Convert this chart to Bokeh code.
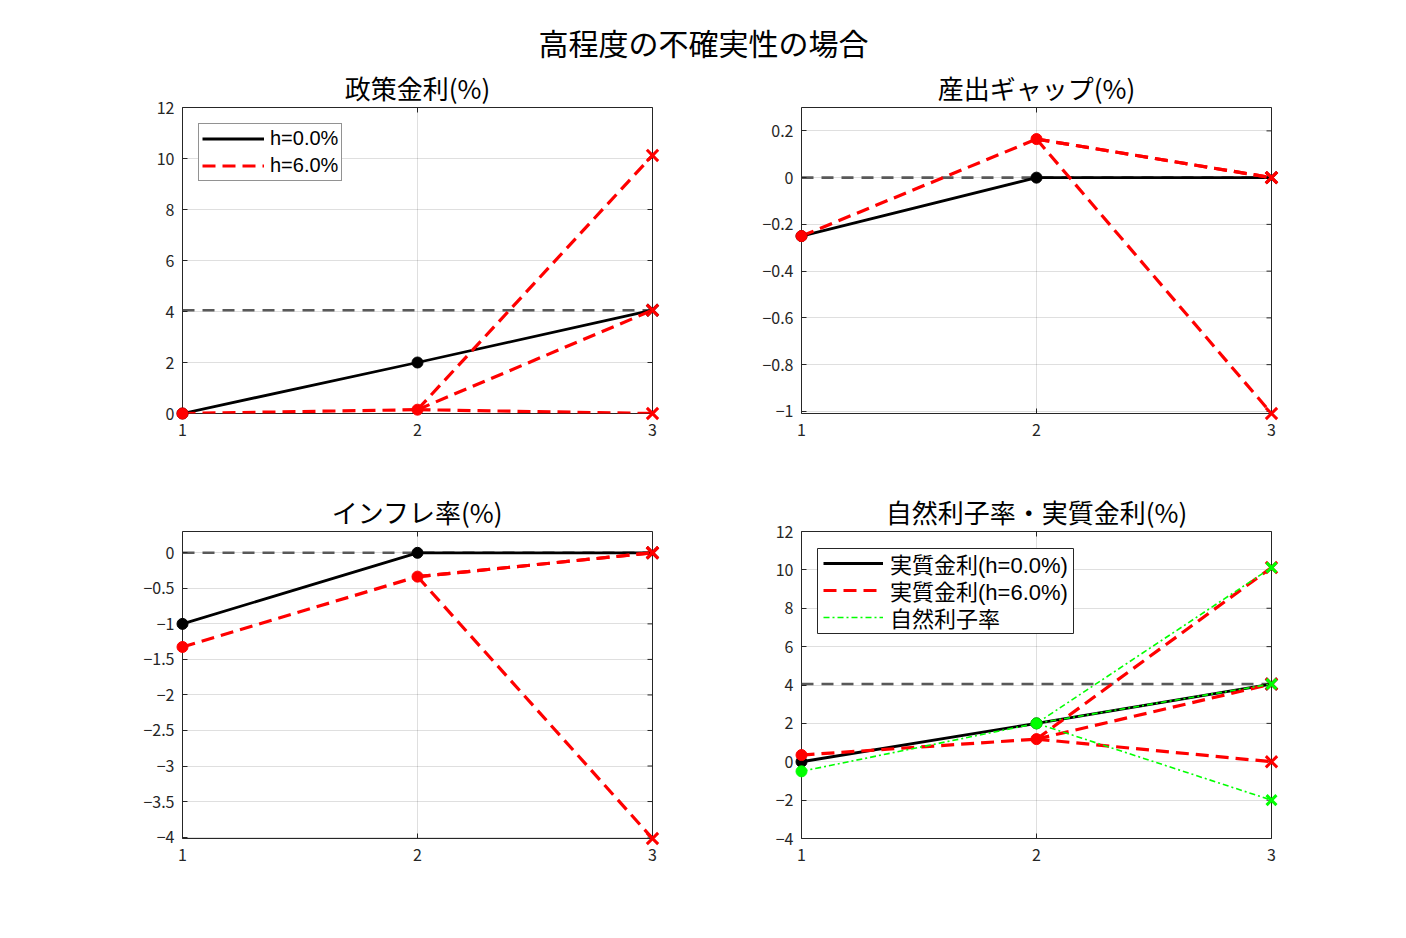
import math
from bokeh.plotting import figure
from bokeh.layouts import column, row
from bokeh.models import (Range1d, FixedTicker, Legend, LegendItem, CustomJSTickFormatter,
                          BoxAnnotation)
from bokeh.core.properties import value
from bokeh.embed import file_html
from bokeh.resources import INLINE

# ---------------- data ----------------
periods = [1, 2, 3]
path_periods = [1, 2]
branch_periods = [2, 3]

main_title = "高程度の不確実性の場合"
panel_titles = ["政策金利(%)", "産出ギャップ(%)", "インフレ率(%)", "自然利子率・実質金利(%)"]

policy_h0 = [0.0, 2.0, 4.05]
policy_h6_path = [0.0, 0.15]
policy_h6_branches = [10.12, 4.05, 0.0]
policy_ref = 4.05

gap_h0 = [-0.25, 0.0, 0.0]
gap_h6_path = [-0.25, 0.165]
gap_h6_branches = [0.0, 0.0, -1.009]
gap_ref = 0.0

infl_h0 = [-1.0, 0.0, 0.0]
infl_h6_path = [-1.325, -0.335]
infl_h6_branches = [0.0, 0.0, -4.02]
infl_ref = 0.0

real_h0 = [0.0, 2.0, 4.05]
real_h6_path = [0.35, 1.18]
real_h6_branches = [10.12, 4.05, 0.0]
natural_path = [-0.5, 2.0]
natural_branches = [10.12, 4.05, -2.0]
real_ref = 4.05

y_limits = [(0, 12), (-1.009, 0.3), (-4.02, 0.3), (-4, 12)]
y_ticks = [
    [0, 2, 4, 6, 8, 10, 12],
    [-1, -0.8, -0.6, -0.4, -0.2, 0, 0.2],
    [-4, -3.5, -3, -2.5, -2, -1.5, -1, -0.5, 0],
    [-4, -2, 0, 2, 4, 6, 8, 10, 12],
]
x_ticks = [1, 2, 3]
legend_labels_1 = ["h=0.0%", "h=6.0%"]
legend_labels_4 = ["実質金利(h=0.0%)", "実質金利(h=6.0%)", "自然利子率"]

# ---------------- style ----------------
FONT = "Noto Sans CJK JP"
LEGEND_FONT = "Liberation Sans, Noto Sans CJK JP"
AX = "#262626"
BLACK = "#000000"
RED = "#ff0000"
GREEN = "#00ff00"
GRAY = "#595959"

fmt_code = "var s = String(Math.round(tick*1000)/1000); return s.replace('-', '\\u2212');"


def make_panel(title, ylim, yticks, bl, br, bt, bb, fh):
    p = figure(frame_width=470, frame_height=fh,
               x_range=Range1d(periods[0], periods[-1]), y_range=Range1d(*ylim),
               output_backend="svg", toolbar_location=None,
               min_border_left=bl, min_border_right=br,
               min_border_top=bt, min_border_bottom=bb)
    p.title.text = title
    p.title.align = "center"
    p.title.text_font = FONT
    p.title.text_font_size = "26px"
    p.title.text_font_style = "normal"
    p.title.text_color = "#000000"
    p.title.standoff = 4
    p.outline_line_color = AX
    p.outline_line_width = 1
    p.outline_line_alpha = 1

    p.xaxis.ticker = FixedTicker(ticks=x_ticks)
    p.yaxis.ticker = FixedTicker(ticks=yticks)
    p.yaxis.formatter = CustomJSTickFormatter(code=fmt_code)
    p.xaxis.formatter = CustomJSTickFormatter(code=fmt_code)
    for ax in (p.xaxis[0], p.yaxis[0]):
        ax.axis_line_color = None
        ax.major_tick_in = 5
        ax.major_tick_out = 0
        ax.minor_tick_in = 0
        ax.minor_tick_out = 0
        ax.major_tick_line_color = AX
        ax.major_label_text_font = FONT
        ax.major_label_text_font_size = "16px"
        ax.major_label_text_color = AX
    p.xaxis.major_label_standoff = 10
    p.yaxis.major_label_standoff = 8

    # inward ticks on the right and top edges (outer halves clipped by the frame)
    p.scatter([periods[-1]] * len(yticks), yticks, marker="dash", size=10,
              line_color=AX, line_width=1)
    p.scatter(x_ticks, [ylim[1]] * len(x_ticks), marker="dash", size=10, angle=math.pi / 2,
              line_color=AX, line_width=1)

    p.xgrid.ticker = FixedTicker(ticks=x_ticks)
    p.ygrid.ticker = FixedTicker(ticks=yticks)
    for g in (p.xgrid[0], p.ygrid[0]):
        g.grid_line_color = AX
        g.grid_line_alpha = 0.15
        g.grid_line_width = 1
    return p


def ref_line(p, level):
    p.line([periods[0], periods[-1]], [level, level], line_color=GRAY,
           line_width=2.6, line_dash="12 8")


def solid_series(p, vals, color=BLACK):
    r = p.line(periods, vals, line_color=color, line_width=2.8)
    p.scatter(path_periods, vals[:2], marker="circle", size=11, color=color, level="overlay")
    p.scatter([periods[-1]], [vals[-1]], marker="x", size=16, line_color=color, line_width=3,
              level="overlay")
    return r


def branch_series(p, path, branches, color, width, dash, xsize):
    r = p.line(path_periods, path, line_color=color, line_width=width, line_dash=dash)
    p.multi_line([branch_periods] * len(branches), [[path[-1], b] for b in branches],
                 line_color=color, line_width=width, line_dash=dash)
    p.scatter(path_periods, path, marker="circle", size=11, color=color, level="overlay")
    p.scatter([branch_periods[-1]] * len(branches), branches, marker="x", size=xsize,
              line_color=color, line_width=3, level="overlay")
    return r


TOP1, TOP2 = 43, 61
FH1, FH2 = 306, 307

# top-left: policy rate
p1 = make_panel(panel_titles[0], y_limits[0], y_ticks[0], 182, 51, TOP1, 57, FH1)
ref_line(p1, policy_ref)
r1a = solid_series(p1, policy_h0)
r1b = branch_series(p1, policy_h6_path, policy_h6_branches, RED, 3.2, "13 7", 16)
p1.add_layout(Legend(items=[LegendItem(label=legend_labels_1[0], renderers=[r1a]),
                            LegendItem(label=legend_labels_1[1], renderers=[r1b])],
                     location="top_left", margin=16, padding=3, spacing=4,
                     label_text_font=LEGEND_FONT, label_text_font_size="20px",
                     label_text_color="#000000", glyph_width=62, glyph_height=23,
                     label_height=23, label_standoff=6, border_line_color=AX,
                     border_line_width=1, background_fill_alpha=1))

# top-right: output gap
p2 = make_panel(panel_titles[1], y_limits[1], y_ticks[1], 98, 135, TOP1, 57, FH1)
ref_line(p2, gap_ref)
solid_series(p2, gap_h0)
branch_series(p2, gap_h6_path, gap_h6_branches, RED, 3.2, "13 7", 16)

# bottom-left: inflation
p3 = make_panel(panel_titles[2], y_limits[2], y_ticks[2], 182, 51, TOP2, 100, FH2)
ref_line(p3, infl_ref)
solid_series(p3, infl_h0)
branch_series(p3, infl_h6_path, infl_h6_branches, RED, 3.2, "13 7", 16)

# bottom-right: natural & real rates
p4 = make_panel(panel_titles[3], y_limits[3], y_ticks[3], 98, 135, TOP2, 100, FH2)
ref_line(p4, real_ref)
r4a = solid_series(p4, real_h0)
r4b = branch_series(p4, real_h6_path, real_h6_branches, RED, 3.2, "13 7", 16)
r4c = branch_series(p4, natural_path, natural_branches, GREEN, 1.6, "6 3 2 3", 14)

# legend frame (screen units, relative to the plot frame) + one legend per row
p4.add_layout(BoxAnnotation(left=16, right=272, top=FH2 - 17, bottom=FH2 - 102,
                            left_units="screen", right_units="screen",
                            top_units="screen", bottom_units="screen",
                            fill_color="white", fill_alpha=1,
                            line_color=AX, line_width=1, line_alpha=1))
ROW_H = 32
for i, (lab, r) in enumerate(zip(legend_labels_4, [r4a, r4b, r4c])):
    center_from_top = 32 + 27 * i
    p4.add_layout(Legend(items=[LegendItem(label=lab, renderers=[r])],
                         location=(22, FH2 - center_from_top - ROW_H // 2),
                         padding=0, margin=0, spacing=0,
                         label_text_font=LEGEND_FONT, label_text_font_size="22px",
                         label_text_color="#000000", glyph_width=60, glyph_height=ROW_H,
                         label_height=ROW_H, label_standoff=7,
                         border_line_color=None, background_fill_alpha=0))

# main title strip
STRIP = 64
pt = figure(frame_width=1406, frame_height=STRIP, x_range=Range1d(0, 1406), y_range=Range1d(0, STRIP),
            output_backend="svg", toolbar_location=None,
            min_border_left=0, min_border_right=0, min_border_top=0, min_border_bottom=0)
pt.axis.visible = False
pt.grid.visible = False
pt.outline_line_color = None
pt.text(x=[703], y=[STRIP - 41], text=[main_title], text_align="center", text_baseline="middle",
        text_font=value(FONT), text_font_size="30px", text_color="#000000")

layout = column(pt, row(p1, p2), row(p3, p4))
open("out.html", "w").write(file_html(layout, INLINE))
